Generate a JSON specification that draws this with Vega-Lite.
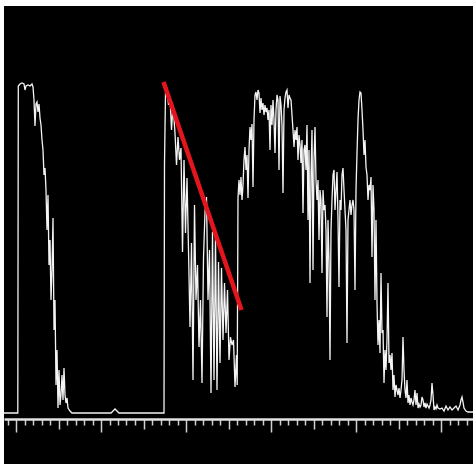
{
  "$schema": "https://vega.github.io/schema/vega-lite/v6.json",
  "width": 469,
  "height": 458,
  "autosize": "none",
  "padding": {"left": 4, "top": 6, "right": 0, "bottom": 0},
  "background": "white",
  "config": {"view": {"fill": "black", "stroke": null}},
  "layer": [
    {
      "data": {"values": [
        {"t": -12, "v": 0}, {"t": 1.8, "v": 0}, {"t": 2.3, "v": 327}, {"t": 4, "v": 329}, {"t": 6, "v": 330}, {"t": 8, "v": 329}, {"t": 9, "v": 323}, {"t": 10, "v": 327}, {"t": 12, "v": 328}, {"t": 14, "v": 327}, {"t": 16, "v": 329}, {"t": 17, "v": 326}, {"t": 18, "v": 313}, {"t": 19, "v": 287}, {"t": 20, "v": 309}, {"t": 21, "v": 311}, {"t": 22, "v": 301}, {"t": 23, "v": 309}, {"t": 24, "v": 295}, {"t": 25, "v": 288}, {"t": 26, "v": 273}, {"t": 27, "v": 263}, {"t": 28, "v": 238}, {"t": 29, "v": 245}, {"t": 30, "v": 223}, {"t": 31, "v": 183}, {"t": 32, "v": 218}, {"t": 33, "v": 148}, {"t": 34, "v": 173}, {"t": 35, "v": 113}, {"t": 36, "v": 143}, {"t": 37, "v": 195}, {"t": 38, "v": 83}, {"t": 39, "v": 113}, {"t": 40, "v": 28}, {"t": 41, "v": 63}, {"t": 42, "v": 5}, {"t": 43, "v": 43}, {"t": 44, "v": 8}, {"t": 45, "v": 18}, {"t": 46, "v": 38}, {"t": 47, "v": 13}, {"t": 48, "v": 45}, {"t": 49, "v": 18}, {"t": 50, "v": 10}, {"t": 51, "v": 15}, {"t": 52, "v": 5}, {"t": 54, "v": 2}, {"t": 56, "v": 0}, {"t": 95, "v": 0}, {"t": 97, "v": 2}, {"t": 99, "v": 4}, {"t": 101, "v": 2}, {"t": 103, "v": 0}, {"t": 148, "v": 0},
        {"t": 148.5, "v": 250}, {"t": 149.5, "v": 320}, {"t": 151, "v": 325}, {"t": 152.5, "v": 308}, {"t": 154, "v": 316}, {"t": 155.5, "v": 283}, {"t": 157, "v": 308}, {"t": 159, "v": 280}, {"t": 160.5, "v": 248}, {"t": 162, "v": 276}, {"t": 163.5, "v": 253}, {"t": 165, "v": 265}, {"t": 166.5, "v": 161}, {"t": 168, "v": 253}, {"t": 169.5, "v": 180}, {"t": 171, "v": 235}, {"t": 172.5, "v": 163}, {"t": 174, "v": 86}, {"t": 175.5, "v": 170}, {"t": 177, "v": 33}, {"t": 178.5, "v": 208}, {"t": 180, "v": 113}, {"t": 181.5, "v": 148}, {"t": 183, "v": 66}, {"t": 184.5, "v": 113}, {"t": 186, "v": 30}, {"t": 187.5, "v": 155}, {"t": 189, "v": 201}, {"t": 190.5, "v": 216}, {"t": 192, "v": 113}, {"t": 193.5, "v": 163}, {"t": 195, "v": 20}, {"t": 196.5, "v": 181}, {"t": 198, "v": 33}, {"t": 199.5, "v": 176}, {"t": 201, "v": 23}, {"t": 202.5, "v": 151}, {"t": 204, "v": 50}, {"t": 205.5, "v": 145}, {"t": 207, "v": 73}, {"t": 208.5, "v": 130}, {"t": 210, "v": 80}, {"t": 211.5, "v": 123}, {"t": 213, "v": 53}, {"t": 214.5, "v": 76}, {"t": 216, "v": 68}, {"t": 217.5, "v": 73}, {"t": 219, "v": 26}, {"t": 220.5, "v": 58}, {"t": 221.2, "v": 28}, {"t": 222, "v": 215},
        {"t": 223, "v": 233}, {"t": 224, "v": 218}, {"t": 225, "v": 236}, {"t": 226, "v": 213}, {"t": 227, "v": 228}, {"t": 228, "v": 253}, {"t": 229, "v": 266}, {"t": 230, "v": 243}, {"t": 231, "v": 258}, {"t": 232, "v": 215}, {"t": 233, "v": 263}, {"t": 234, "v": 286}, {"t": 235, "v": 273}, {"t": 236, "v": 289}, {"t": 237, "v": 226}, {"t": 238, "v": 293}, {"t": 239, "v": 318}, {"t": 240, "v": 321}, {"t": 241, "v": 313}, {"t": 242, "v": 323}, {"t": 243, "v": 320}, {"t": 244, "v": 300}, {"t": 245, "v": 315}, {"t": 246, "v": 303}, {"t": 247, "v": 310}, {"t": 248, "v": 298}, {"t": 249, "v": 308}, {"t": 250, "v": 301}, {"t": 251, "v": 305}, {"t": 252, "v": 293}, {"t": 253, "v": 303}, {"t": 254, "v": 263}, {"t": 255, "v": 308}, {"t": 256, "v": 288}, {"t": 257, "v": 313}, {"t": 258, "v": 293}, {"t": 259, "v": 260}, {"t": 260, "v": 303}, {"t": 261, "v": 318}, {"t": 262, "v": 313}, {"t": 263, "v": 243}, {"t": 264, "v": 317}, {"t": 265, "v": 308}, {"t": 266, "v": 288}, {"t": 267, "v": 220}, {"t": 268, "v": 303}, {"t": 269, "v": 315}, {"t": 270, "v": 321}, {"t": 271, "v": 323}, {"t": 272, "v": 305}, {"t": 273, "v": 318}, {"t": 274, "v": 315}, {"t": 275, "v": 313}, {"t": 276, "v": 298}, {"t": 277, "v": 283}, {"t": 278, "v": 266}, {"t": 279, "v": 283}, {"t": 280, "v": 273}, {"t": 281, "v": 286}, {"t": 282, "v": 253}, {"t": 283, "v": 278}, {"t": 284, "v": 268}, {"t": 285, "v": 250}, {"t": 286, "v": 273}, {"t": 287, "v": 200}, {"t": 288, "v": 263}, {"t": 289, "v": 268}, {"t": 290, "v": 243}, {"t": 291, "v": 288}, {"t": 292, "v": 193}, {"t": 293, "v": 263}, {"t": 294, "v": 130}, {"t": 295, "v": 238}, {"t": 296, "v": 283}, {"t": 297, "v": 143}, {"t": 298, "v": 253}, {"t": 299, "v": 286}, {"t": 300, "v": 233}, {"t": 301, "v": 213}, {"t": 302, "v": 233}, {"t": 303, "v": 173}, {"t": 304, "v": 223}, {"t": 305, "v": 213}, {"t": 306, "v": 140}, {"t": 307, "v": 223}, {"t": 308, "v": 203}, {"t": 309, "v": 208}, {"t": 310, "v": 183}, {"t": 311, "v": 96}, {"t": 312, "v": 193}, {"t": 313, "v": 153}, {"t": 314, "v": 53}, {"t": 315, "v": 183}, {"t": 316, "v": 213}, {"t": 317, "v": 238}, {"t": 318, "v": 243}, {"t": 319, "v": 203}, {"t": 320, "v": 223}, {"t": 321, "v": 241}, {"t": 322, "v": 193}, {"t": 323, "v": 126}, {"t": 324, "v": 213}, {"t": 325, "v": 203}, {"t": 326, "v": 238}, {"t": 327, "v": 245}, {"t": 328, "v": 223}, {"t": 329, "v": 203}, {"t": 330, "v": 183}, {"t": 331, "v": 70}, {"t": 332, "v": 193}, {"t": 333, "v": 203}, {"t": 334, "v": 213}, {"t": 335, "v": 198}, {"t": 336, "v": 208}, {"t": 337, "v": 213}, {"t": 338, "v": 203}, {"t": 339, "v": 123}, {"t": 340, "v": 223}, {"t": 341, "v": 260}, {"t": 342, "v": 293}, {"t": 343, "v": 313}, {"t": 344, "v": 321}, {"t": 345, "v": 320}, {"t": 346, "v": 303}, {"t": 347, "v": 283}, {"t": 348, "v": 258}, {"t": 349, "v": 273}, {"t": 350, "v": 246}, {"t": 351, "v": 238}, {"t": 352, "v": 213}, {"t": 353, "v": 228}, {"t": 354, "v": 223}, {"t": 355, "v": 236}, {"t": 356, "v": 156}, {"t": 357, "v": 228}, {"t": 358, "v": 203}, {"t": 359, "v": 113}, {"t": 360, "v": 193}, {"t": 361, "v": 110}, {"t": 362, "v": 68}, {"t": 363, "v": 93}, {"t": 364, "v": 60}, {"t": 365, "v": 140}, {"t": 366, "v": 80}, {"t": 367, "v": 83}, {"t": 368, "v": 30}, {"t": 369, "v": 63}, {"t": 370, "v": 43}, {"t": 371, "v": 73}, {"t": 372, "v": 130}, {"t": 373, "v": 50}, {"t": 374, "v": 58}, {"t": 375, "v": 43}, {"t": 376, "v": 60}, {"t": 377, "v": 23}, {"t": 378, "v": 38}, {"t": 379, "v": 16}, {"t": 380, "v": 28}, {"t": 381, "v": 23}, {"t": 382, "v": 18}, {"t": 383, "v": 25}, {"t": 384, "v": 15}, {"t": 385, "v": 23}, {"t": 386, "v": 33}, {"t": 387, "v": 76}, {"t": 388, "v": 43}, {"t": 389, "v": 23}, {"t": 390, "v": 15}, {"t": 391, "v": 33}, {"t": 392, "v": 10}, {"t": 393, "v": 18}, {"t": 394, "v": 8}, {"t": 395, "v": 15}, {"t": 396, "v": 11}, {"t": 397, "v": 8}, {"t": 398, "v": 13}, {"t": 399, "v": 23}, {"t": 400, "v": 8}, {"t": 401, "v": 20}, {"t": 402, "v": 5}, {"t": 403, "v": 9}, {"t": 404, "v": 6}, {"t": 405, "v": 8}, {"t": 406, "v": 16}, {"t": 407, "v": 13}, {"t": 408, "v": 6}, {"t": 409, "v": 10}, {"t": 410, "v": 5}, {"t": 411, "v": 9}, {"t": 412, "v": 7}, {"t": 413, "v": 5}, {"t": 414, "v": 8}, {"t": 415, "v": 13}, {"t": 416, "v": 30}, {"t": 417, "v": 18}, {"t": 418, "v": 3}, {"t": 419, "v": 6}, {"t": 420, "v": 4}, {"t": 421, "v": 8}, {"t": 422, "v": 5}, {"t": 424, "v": 4}, {"t": 426, "v": 5}, {"t": 428, "v": 2}, {"t": 430, "v": 7}, {"t": 432, "v": 3}, {"t": 434, "v": 6}, {"t": 436, "v": 3}, {"t": 438, "v": 5}, {"t": 440, "v": 7}, {"t": 442, "v": 3}, {"t": 444, "v": 8}, {"t": 445, "v": 13}, {"t": 446, "v": 16}, {"t": 447, "v": 11}, {"t": 448, "v": 5}, {"t": 450, "v": 2}, {"t": 452, "v": 1}, {"t": 457, "v": 1}
      ]},
      "mark": {"type": "line", "color": "#f4f4f4", "strokeWidth": 1.3},
      "encoding": {
        "x": {
          "field": "t", "type": "quantitative",
          "scale": {"domain": [-12, 457], "nice": false, "zero": false},
          "axis": {
            "orient": "bottom", "offset": -45, "labels": false, "title": null, "grid": false,
            "tickCount": 500,
            "values": [-8.5, 0, 8.5, 17, 25.5, 34, 42.5, 51, 59.5, 68, 76.5, 85, 93.5, 102, 110.5, 119, 127.5, 136, 144.5, 153, 161.5, 170, 178.5, 187, 195.5, 204, 212.5, 221, 229.5, 238, 246.5, 255, 263.5, 272, 280.5, 289, 297.5, 306, 314.5, 323, 331.5, 340, 348.5, 357, 365.5, 374, 382.5, 391, 399.5, 408, 416.5, 425, 433.5, 442, 450.5],
            "domainColor": "#e2e2e2", "domainWidth": 2.5,
            "tickColor": "#d0d0d0", "tickWidth": 1.5,
            "tickSize": {"condition": [{"test": "round(datum.value/8.5) % 10 === 0", "value": 13}, {"test": "round(datum.value/8.5) % 5 === 0", "value": 10}], "value": 6}
          }
        },
        "y": {
          "field": "v", "type": "quantitative",
          "scale": {"domain": [-51, 407], "nice": false, "zero": false},
          "axis": null
        }
      }
    },
    {
      "data": {"values": [{"t": 147.5, "v": 331}, {"t": 225.5, "v": 103}]},
      "mark": {"type": "line", "color": "#e5151d", "strokeWidth": 4.5, "strokeCap": "butt"},
      "encoding": {
        "x": {"field": "t", "type": "quantitative"},
        "y": {"field": "v", "type": "quantitative"}
      }
    }
  ]
}
